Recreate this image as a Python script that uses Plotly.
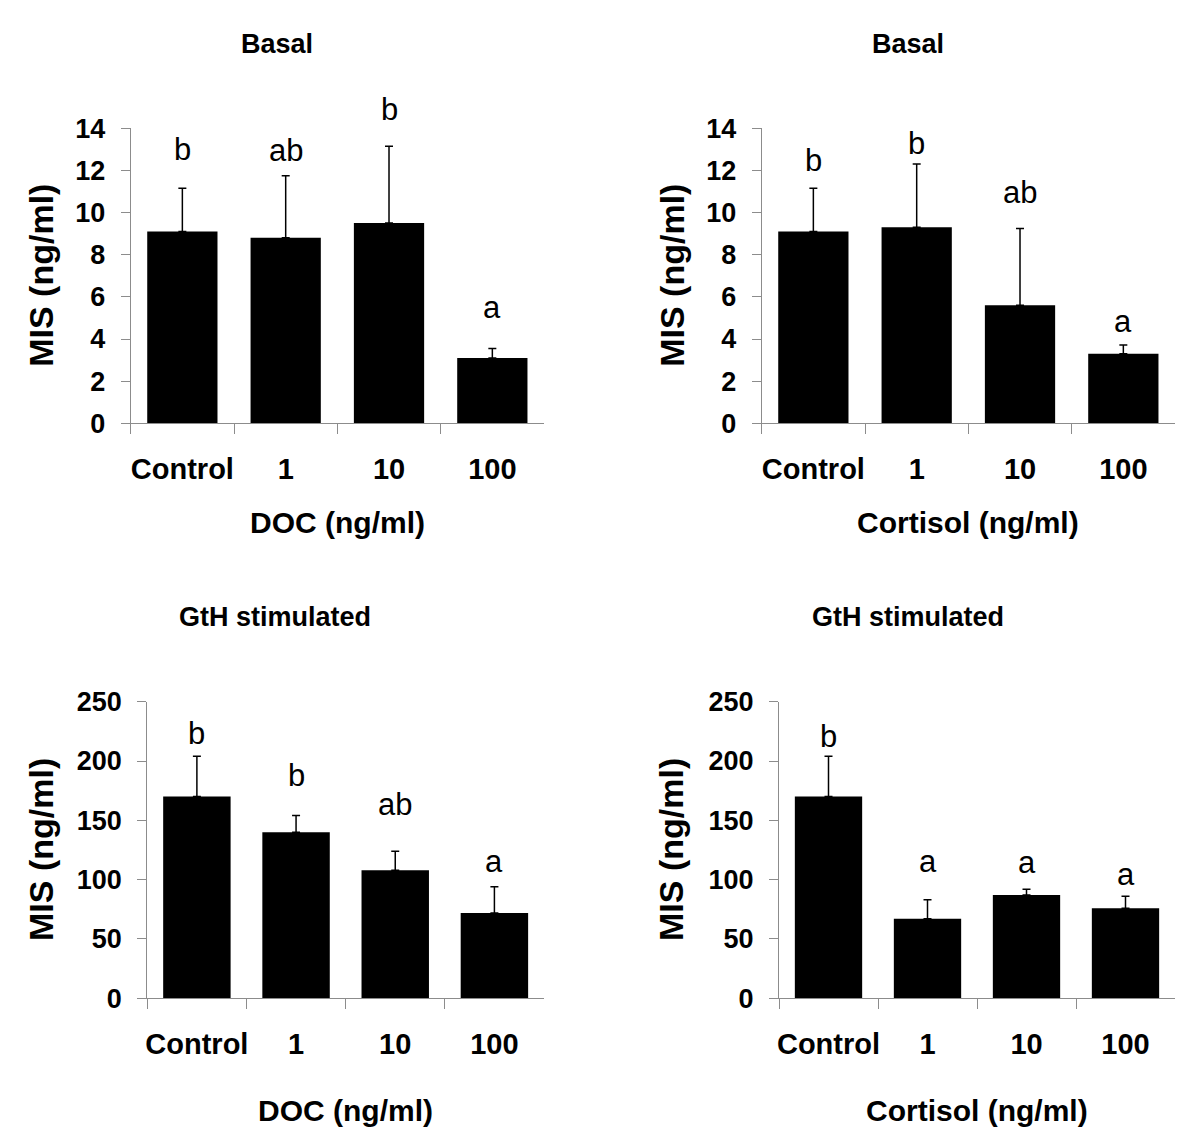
import plotly.graph_objects as go

# ---------------- data ----------------
categories = ["Control", "1", "10", "100"]

doc_basal_mean = [9.1, 8.8, 9.5, 3.1]
doc_basal_se = [2.05, 2.95, 3.65, 0.45]
doc_basal_letters = ["b", "ab", "b", "a"]

cort_basal_mean = [9.1, 9.3, 5.6, 3.3]
cort_basal_se = [2.05, 3.0, 3.65, 0.42]
cort_basal_letters = ["b", "b", "ab", "a"]

doc_gth_mean = [170, 140, 108, 72]
doc_gth_se = [34, 14, 16, 22]
doc_gth_letters = ["b", "b", "ab", "a"]

cort_gth_mean = [170, 67, 87, 76]
cort_gth_se = [34, 16, 5, 10]
cort_gth_letters = ["b", "a", "a", "a"]

basal_ticks = [0, 2, 4, 6, 8, 10, 12, 14]
gth_ticks = [0, 50, 100, 150, 200, 250]

# ---------------- layout helpers ----------------
W, H = 1200, 1142
FONT = "Liberation Sans, Arial, Helvetica, sans-serif"
GRAY = "#8c8c8c"


def px_x(p):
    return p / W


def px_y(p):
    return 1 - p / H


# pixel gap between top of error bar and baseline of significance letter
doc_basal_gap = [27, 14, 25, 29]
cort_basal_gap = [16, 9, 24, 12]
doc_gth_gap = [11, 29, 35, 14]
cort_gth_gap = [8, 27, 15, 10]

panels = [
    dict(mean=doc_basal_mean, se=doc_basal_se, letters=doc_basal_letters, gap=doc_basal_gap,
         xd=(130.7, 544), yd=(128.3, 423.3), yr=14, ticks=basal_ticks,
         title="Basal", title_x=277, title_y=44, xlab="DOC (ng/ml)", xlab_y=522, ylab_x=41),
    dict(mean=cort_basal_mean, se=cort_basal_se, letters=cort_basal_letters, gap=cort_basal_gap,
         xd=(761.7, 1175), yd=(128.3, 423.3), yr=14, ticks=basal_ticks,
         title="Basal", title_x=908, title_y=44, xlab="Cortisol (ng/ml)", xlab_y=522, ylab_x=672),
    dict(mean=doc_gth_mean, se=doc_gth_se, letters=doc_gth_letters, gap=doc_gth_gap,
         xd=(147.3, 544), yd=(701.7, 998.3), yr=250, ticks=gth_ticks,
         title="GtH stimulated", title_x=275, title_y=617, xlab="DOC (ng/ml)", xlab_y=1110, ylab_x=41),
    dict(mean=cort_gth_mean, se=cort_gth_se, letters=cort_gth_letters, gap=cort_gth_gap,
         xd=(779, 1175), yd=(701.7, 998.3), yr=250, ticks=gth_ticks,
         title="GtH stimulated", title_x=908, title_y=617, xlab="Cortisol (ng/ml)", xlab_y=1110, ylab_x=671),
]

fig = go.Figure()
annotations = []
layout_axes = {}

for i, p in enumerate(panels, start=1):
    xa = "x" if i == 1 else f"x{i}"
    ya = "y" if i == 1 else f"y{i}"
    fig.add_trace(go.Bar(
        x=categories, y=p["mean"], width=0.68,
        marker=dict(color="black", line=dict(width=0)),
        error_y=dict(type="data", symmetric=False, array=p["se"],
                     arrayminus=[0] * len(p["se"]),
                     color="black", thickness=1.5, width=4),
        xaxis=xa, yaxis=ya, showlegend=False, hoverinfo="skip",
    ))
    xkey = "xaxis" if i == 1 else f"xaxis{i}"
    ykey = "yaxis" if i == 1 else f"yaxis{i}"
    layout_axes[xkey] = dict(
        domain=[px_x(p["xd"][0]), px_x(p["xd"][1])],
        anchor=ya, type="category", range=[-0.5, 3.5],
        showline=True, linecolor=GRAY, linewidth=1,
        ticks="outside", tickson="boundaries", ticklen=10, tickcolor=GRAY, tickwidth=1,
        tickfont=dict(family=FONT, size=29, color="black", weight="bold"),
        tickangle=0, ticklabelstandoff=20, automargin=False,
        showgrid=False, zeroline=False, fixedrange=True,
    )
    layout_axes[ykey] = dict(
        domain=[px_y(p["yd"][1]), px_y(p["yd"][0])],
        anchor=xa, range=[0, p["yr"]],
        tickvals=p["ticks"],
        showline=True, linecolor=GRAY, linewidth=1,
        ticks="outside", ticklen=9, tickcolor=GRAY, tickwidth=1,
        tickfont=dict(family=FONT, size=27, color="black", weight="bold"),
        ticklabelstandoff=10, automargin=False,
        showgrid=False, zeroline=False, fixedrange=True,
    )
    # significance letters, placed above the error bar tops
    for k, (lab, m, s, g) in enumerate(zip(p["letters"], p["mean"], p["se"], p["gap"])):
        annotations.append(dict(
            x=k, y=m + s, xref=xa, yref=ya, text=lab, showarrow=False,
            xanchor="center", yanchor="bottom", yshift=g - 8,
            font=dict(family=FONT, size=31, color="black"),
        ))
    # panel title
    annotations.append(dict(
        x=px_x(p["title_x"]), y=px_y(p["title_y"]), xref="paper", yref="paper",
        text=p["title"], showarrow=False, xanchor="center", yanchor="middle",
        font=dict(family=FONT, size=27, color="black", weight="bold"),
    ))
    # x axis title
    annotations.append(dict(
        x=px_x((p["xd"][0] + p["xd"][1]) / 2), y=px_y(p["xlab_y"]), xref="paper", yref="paper",
        text=p["xlab"], showarrow=False, xanchor="center", yanchor="middle",
        font=dict(family=FONT, size=30, color="black", weight="bold"),
    ))
    # y axis title
    annotations.append(dict(
        x=px_x(p["ylab_x"]), y=px_y((p["yd"][0] + p["yd"][1]) / 2), xref="paper", yref="paper",
        text="MIS (ng/ml)", showarrow=False, textangle=-90,
        xanchor="center", yanchor="middle",
        font=dict(family=FONT, size=34, color="black", weight="bold"),
    ))

fig.update_layout(
    width=W, height=H,
    margin=dict(l=0, r=0, t=0, b=0, autoexpand=False),
    paper_bgcolor="white", plot_bgcolor="white",
    annotations=annotations,
    bargap=0.32,
    **layout_axes,
)

fig.write_html("out.html", config={"displayModeBar": False},
               post_script="document.body.style.margin='0';")
